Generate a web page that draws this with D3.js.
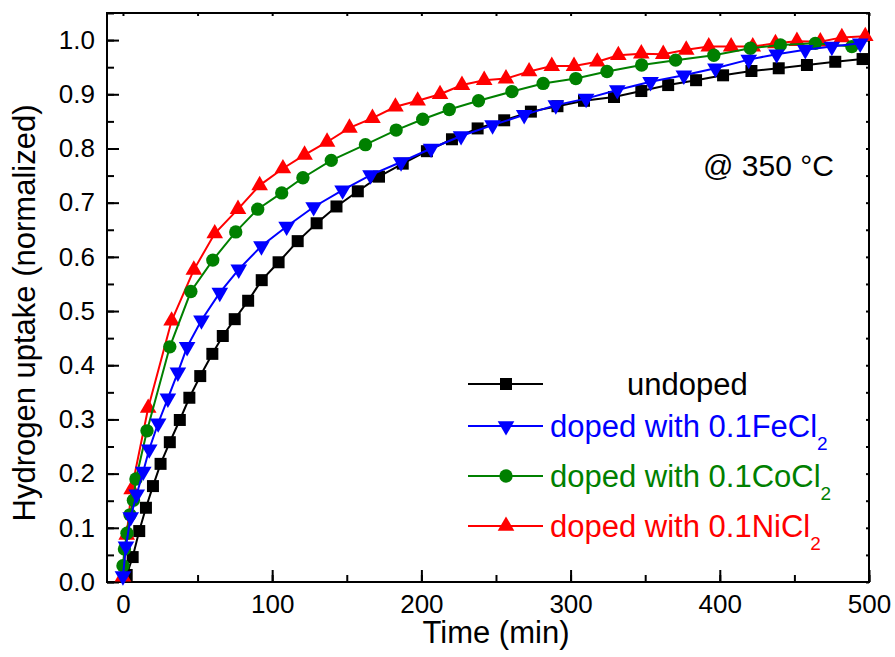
<html>
<head>
<script src="https://cdn.jsdelivr.net/npm/d3@7"></script>
<style>
  body { margin: 0; background: #fff; }
  text { font-family: "Liberation Sans", Arial, sans-serif; }
</style>
</head>
<body>
<svg id="svg" width="895" height="657"></svg>
<script>
// data: [time (min), normalized uptake]
const undoped = [[2.5,0.013],[6.5,0.046],[10.9,0.094],[15.4,0.137],[20.1,0.177],[25.2,0.218],[31.4,0.258],[38.1,0.299],
  [44.5,0.340],[51.8,0.380],[59.9,0.421],[66.9,0.454],[74.9,0.485],[83.9,0.519],[93.0,0.557],[104.3,0.590],[117.1,0.629],
  [129.8,0.662],[143.1,0.693],[157.4,0.721],[171.6,0.748],[187.5,0.772],[203.7,0.795],[220.5,0.817],[237.7,0.837],
  [255.5,0.852],[273.4,0.868],[291.2,0.878],[309.0,0.888],[329.1,0.895],[347.4,0.906],[365.4,0.917],[384.1,0.926],
  [402.2,0.935],[421.2,0.943],[439.5,0.948],[458.4,0.954],[477.4,0.960],[495.7,0.965]];
const feCl2 = [[0,0.011],[2.0,0.066],[5.2,0.120],[9.2,0.162],[13.6,0.204],[17.6,0.245],[23.6,0.293],[30.1,0.339],
  [36.8,0.387],[43.0,0.434],[52.6,0.483],[64.9,0.534],[77.6,0.577],[92.8,0.620],[109.7,0.656],[127.8,0.692],
  [147.2,0.723],[165.9,0.751],[186.4,0.775],[206.5,0.800],[226.6,0.823],[247.7,0.843],[268.9,0.862],[290.1,0.880],
  [310.4,0.892],[331.3,0.908],[353.6,0.923],[375.9,0.935],[397.1,0.948],[419.4,0.964],[438.1,0.974],[457.3,0.982],
  [475.1,0.988],[494.1,0.994]];
const coCl2 = [[0,0.030],[1.0,0.061],[2.7,0.090],[4.7,0.124],[7.0,0.151],[8.7,0.190],[16.1,0.279],[31.4,0.434],
  [45.5,0.536],[60.2,0.594],[75.6,0.646],[90.3,0.688],[106.4,0.718],[120.6,0.746],[139.6,0.778],[162.5,0.807],
  [183.1,0.834],[200.9,0.854],[218.7,0.872],[238.3,0.888],[260.7,0.905],[281.6,0.920],[303.5,0.929],[324.4,0.942],
  [347.6,0.954],[370.4,0.963],[396.0,0.972],[420.5,0.985],[440.6,0.991],[464.0,0.994],[488.5,0.988]];
const niCl2 = [[0,0.010],[2.5,0.087],[5.8,0.171],[16.9,0.321],[32.6,0.482],[47.5,0.576],[61.5,0.643],[77.1,0.688],
  [91.6,0.732],[107.2,0.763],[121.7,0.788],[136.8,0.812],[151.8,0.838],[167.2,0.856],[182.6,0.877],[197.5,0.888],
  [212.5,0.900],[227.2,0.917],[242.1,0.926],[256.7,0.929],[272.2,0.942],[287.4,0.952],[302.3,0.952],[317.9,0.960],
  [332.0,0.972],[347.4,0.975],[362.1,0.974],[377.5,0.982],[392.6,0.988],[407.6,0.988],[422.1,0.988],[437.3,0.994],
  [451.7,0.998],[467.4,0.997],[481.8,1.005],[497.5,1.007]];

const xTicks = [0, 100, 200, 300, 400, 500];
const yTicks = [0, 0.1, 0.2, 0.3, 0.4, 0.5, 0.6, 0.7, 0.8, 0.9, 1.0];
const legendLabels = ["undoped", "doped with 0.1FeCl", "doped with 0.1CoCl", "doped with 0.1NiCl"];

// series styling
const series = [
  {name: legendLabels[0], data: undoped, color: "#000000", sym: d3.symbolSquare, size: 144, rot: 0, sub: false},
  {name: legendLabels[1], data: feCl2, color: "#0000ff", sym: d3.symbolTriangle, size: 120, rot: 180, sub: true},
  {name: legendLabels[2], data: coCl2, color: "#008000", sym: d3.symbolCircle, size: 140, rot: 0, sub: true},
  {name: legendLabels[3], data: niCl2, color: "#ff0000", sym: d3.symbolTriangle, size: 120, rot: 0, sub: true}
];
const drawOrder = [0, 3, 2, 1];

const L = 107, R = 869, T = 13, B = 582;
const svg = d3.select("#svg");

const x = d3.scaleLinear().domain([-10.7, 500]).range([L, R]);
const y = d3.scaleLinear().domain([0, 1.05]).range([B, T]);

const xMinor = d3.range(0, 501, 50);
const yMinor = d3.range(0, 1.051, 0.05);

// minor ticks, bottom / left (inward)
svg.append("g").attr("transform", `translate(0,${B})`)
  .call(d3.axisBottom(x).tickValues(xMinor).tickSize(-7).tickFormat(""))
  .call(g => g.select(".domain").remove());
svg.append("g").attr("transform", `translate(${L},0)`)
  .call(d3.axisLeft(y).tickValues(yMinor).tickSize(-7).tickFormat(""))
  .call(g => g.select(".domain").remove());

const xAxis = svg.append("g").attr("transform", `translate(0,${B})`)
  .call(d3.axisBottom(x).tickValues(xTicks).tickSizeInner(-12).tickSizeOuter(0).tickPadding(12.5).tickFormat(d3.format("d")));
const yAxis = svg.append("g").attr("transform", `translate(${L},0)`)
  .call(d3.axisLeft(y).tickValues(yTicks).tickSizeInner(-12).tickSizeOuter(0).tickPadding(12).tickFormat(d3.format(".1f")));

// top / right short ticks
svg.append("g").attr("transform", `translate(0,${T})`)
  .call(d3.axisTop(x).tickValues(xMinor).tickSize(-3).tickFormat(""))
  .call(g => g.select(".domain").remove());
svg.append("g").attr("transform", `translate(${R},0)`)
  .call(d3.axisRight(y).tickValues(yMinor).tickSize(-3).tickFormat(""))
  .call(g => g.select(".domain").remove());

svg.selectAll(".tick line").attr("stroke", "#000").attr("stroke-width", 2);
[xAxis, yAxis].forEach(a => a.selectAll("text").attr("font-size", 26).attr("fill", "#000")
  .attr("font-family", '"Liberation Sans", Arial, sans-serif'));

// frame
svg.append("rect").attr("x", L).attr("y", T).attr("width", R - L).attr("height", B - T)
  .attr("fill", "none").attr("stroke", "#000").attr("stroke-width", 2);
xAxis.select(".domain").remove();
yAxis.select(".domain").remove();

// axis titles
svg.append("text").attr("x", 496).attr("y", 643).attr("text-anchor", "middle")
  .attr("font-size", 31).text("Time (min)");
svg.append("text").attr("transform", "translate(35,313) rotate(-90)").attr("text-anchor", "middle")
  .attr("font-size", 31).text("Hydrogen uptake (normalized)");

// annotation
svg.append("text").attr("x", 703).attr("y", 176).attr("font-size", 30).text("@ 350 \u00B0C");

// curves
const line = d3.line().x(d => x(d[0])).y(d => y(d[1]));
const plot = svg.append("g");
drawOrder.forEach(i => {
  const s = series[i];
  const g = plot.append("g");
  g.append("path").datum(s.data).attr("d", line)
    .attr("fill", "none").attr("stroke", s.color).attr("stroke-width", 2);
  g.selectAll("path.m").data(s.data).join("path").attr("class", "m")
    .attr("d", d3.symbol().type(s.sym).size(s.size))
    .attr("transform", d => `translate(${x(d[0])},${y(d[1])}) rotate(${s.rot})`)
    .attr("fill", s.color);
});

// legend
const legendY = [384, 426, 476, 526];
series.forEach((s, i) => {
  const g = svg.append("g").attr("transform", `translate(0,${legendY[i]})`);
  g.append("line").attr("x1", 468).attr("x2", 543).attr("y1", 0).attr("y2", 0)
    .attr("stroke", s.color).attr("stroke-width", 2);
  g.append("path").attr("d", d3.symbol().type(s.sym).size(s.size))
    .attr("transform", `translate(506,0) rotate(${s.rot})`).attr("fill", s.color);
  const t = g.append("text").attr("x", i === 0 ? 627 : 550).attr("y", 11)
    .attr("font-size", 31).attr("fill", s.color).text(s.name);
  if (s.sub) t.append("tspan").attr("dy", 13).attr("font-size", 19).text("2");
});
</script>
</body>
</html>
